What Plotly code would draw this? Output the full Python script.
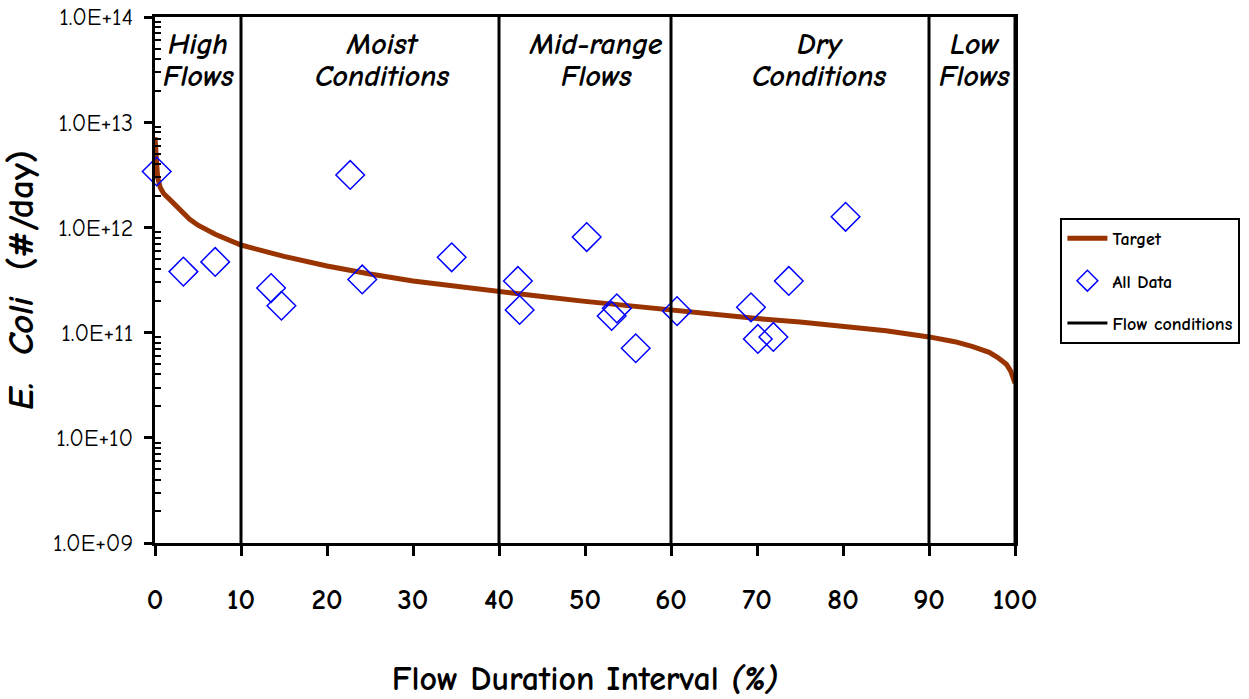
import plotly.graph_objects as go

# Target curve (flow duration interval %, E. coli #/day)
target_x = [0, 0.1, 0.3, 0.6, 1, 2, 3, 4, 5, 7, 10, 15, 20, 25, 30, 35, 40, 45, 50, 55, 60, 65, 70, 75, 80, 85, 90, 93, 95, 97, 98, 99, 99.5, 100]
target_y = [7.2e12, 4.5e12, 3.0e12, 2.4e12, 2.1e12, 1.75e12, 1.45e12, 1.2e12, 1.05e12, 8.6e11, 6.8e11, 5.3e11, 4.3e11, 3.6e11, 3.1e11, 2.75e11, 2.45e11, 2.2e11, 1.98e11, 1.8e11, 1.66e11, 1.48e11, 1.36e11, 1.26e11, 1.14e11, 1.04e11, 9.1e10, 8.2e10, 7.4e10, 6.5e10, 5.8e10, 5.0e10, 4.3e10, 3.3e10]

# Observed data
data_x = [0.2, 3.3, 7.0, 13.5, 14.7, 22.7, 24.1, 34.5, 42.2, 42.4, 50.2, 53.1, 53.7, 55.9, 60.7, 69.3, 70.1, 71.9, 73.7, 80.3, 85.5]
data_y = [3.4e12, 3.8e11, 4.7e11, 2.65e11, 1.8e11, 3.15e12, 3.2e11, 5.2e11, 3.1e11, 1.64e11, 8.1e11, 1.44e11, 1.7e11, 7.1e10, 1.6e11, 1.74e11, 8.7e10, 9.1e10, 3.1e11, 1.26e12, 1.0e9]

# Flow condition boundaries
boundaries = [10, 40, 60, 90, 100]
y_min, y_max = 1e9, 1e14

# Zone labels (two lines each)
zone_x = [5, 26.5, 51.3, 77.3, 95.3]
zone_line1 = ["High", "Moist", "Mid-range", "Dry", "Low"]
zone_line2 = ["Flows", "Conditions", "Flows", "Conditions", "Flows"]

y_tickvals = [1e9, 1e10, 1e11, 1e12, 1e13, 1e14]
y_ticktext = ["1.0E+09", "1.0E+10", "1.0E+11", "1.0E+12", "1.0E+13", "1.0E+14"]
x_tickvals = [0, 10, 20, 30, 40, 50, 60, 70, 80, 90, 100]

FONT = "Comic Sans MS, Comic Neue, DejaVu Sans, sans-serif"

fig = go.Figure()

fig.add_trace(go.Scatter(x=target_x, y=target_y, mode="lines", name="Target",
                         legendgroup="g1",
                         line=dict(color="#993300", width=5)))
fig.add_trace(go.Scatter(x=data_x, y=data_y, mode="markers", name="All Data",
                         legendgroup="g2",
                         marker=dict(symbol="diamond-open", size=22, color="#0000FF",
                                     line=dict(width=1.5, color="#0000FF")),
                         cliponaxis=False))
bx, by = [], []
for b in boundaries:
    bx += [b, b, None]
    by += [y_min, y_max, None]
fig.add_trace(go.Scatter(x=bx, y=by, mode="lines", name="Flow conditions",
                         legendgroup="g3",
                         line=dict(color="black", width=3)))

for zx, l1, l2 in zip(zone_x, zone_line1, zone_line2):
    fig.add_annotation(x=zx, y=0.9468, xref="x", yref="paper", yanchor="middle",
                       text="<b><i>" + l1 + "</i></b>", showarrow=False,
                       font=dict(family=FONT, size=30, color="black"))
    fig.add_annotation(x=zx, y=0.886, xref="x", yref="paper", yanchor="middle",
                       text="<b><i>" + l2 + "</i></b>", showarrow=False,
                       font=dict(family=FONT, size=30, color="black"))

minor_vals = [m * 10 ** k for k in range(9, 14) for m in range(2, 10)]

fig.update_layout(
    width=1249, height=699,
    margin=dict(l=155, r=234, t=17, b=156, autoexpand=False),
    paper_bgcolor="white", plot_bgcolor="white",
    font=dict(family=FONT, color="black"),
    legend=dict(xref="container", yref="container", x=0.849, y=0.688,
                xanchor="left", yanchor="top",
                bordercolor="black", borderwidth=2, bgcolor="white",
                font=dict(family=FONT, size=18, color="black", weight="bold"),
                tracegroupgap=16, itemwidth=40),
    xaxis=dict(range=[0, 100], tickvals=x_tickvals, showgrid=False, zeroline=False,
               showline=True, linecolor="black", linewidth=3, mirror=True,
               ticks="outside", ticklen=10, tickwidth=3, tickcolor="black",
               ticklabelstandoff=18,
               tickfont=dict(family=FONT, size=29, color="black", weight="bold"),
               title=dict(text="<b>Flow Duration Interval <i>(%)</i></b>",
                          font=dict(family=FONT, size=34, color="black"), standoff=52)),
    yaxis=dict(type="log", range=[9, 14], tickvals=y_tickvals, ticktext=y_ticktext,
               showgrid=False, zeroline=False, showline=True, linecolor="black",
               linewidth=3, mirror=True, ticks="outside", ticklen=8, tickwidth=3,
               tickcolor="black", ticklabelstandoff=6,
               tickfont=dict(family=FONT, size=24, color="black"),
               minor=dict(tickvals=minor_vals, ticks="inside", ticklen=6, tickwidth=2,
                          tickcolor="black", showgrid=False),
               title=dict(text="<b><i>E.&nbsp;&nbsp;Coli</i>&nbsp;&nbsp;(#/day)</b>",
                          font=dict(family=FONT, size=37, color="black"), standoff=12)),
)

fig.write_html("out.html")
